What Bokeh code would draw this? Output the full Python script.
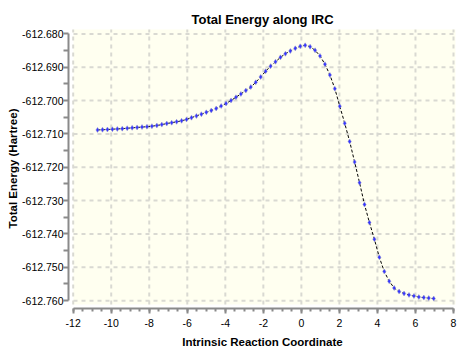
from bokeh.plotting import figure
from bokeh.models import Range1d, FixedTicker, PrintfTickFormatter, BoxAnnotation
from bokeh.embed import file_html
from bokeh.resources import INLINE

irc_x = [-10.72, -10.46, -10.20, -9.94, -9.68, -9.42, -9.16, -8.90, -8.64, -8.38,
         -8.12, -7.86, -7.60, -7.34, -7.08, -6.82, -6.56, -6.30, -6.04, -5.78,
         -5.52, -5.26, -5.00, -4.74, -4.48, -4.22, -3.96, -3.70, -3.44, -3.18,
         -2.92, -2.66, -2.40, -2.14, -1.88, -1.62, -1.36, -1.10, -0.84, -0.58,
         -0.32, -0.06, 0.20, 0.46, 0.72, 0.98, 1.24, 1.50, 1.76, 2.02,
         2.28, 2.54, 2.80, 3.06, 3.32, 3.58, 3.84, 4.10, 4.36, 4.62,
         4.88, 5.14, 5.40, 5.66, 5.92, 6.18, 6.44, 6.70, 6.96]

energy = [-612.70880, -612.70874, -612.70868, -612.70859, -612.70850, -612.70842,
          -612.70830, -612.70818, -612.70806, -612.70795, -612.70783, -612.70768,
          -612.70748, -612.70721, -612.70689, -612.70663, -612.70636, -612.70607,
          -612.70566, -612.70513, -612.70460, -612.70408, -612.70352, -612.70299,
          -612.70238, -612.70164, -612.70088, -612.69997, -612.69900, -612.69801,
          -612.69698, -612.69595, -612.69452, -612.69290, -612.69120, -612.68968,
          -612.68836, -612.68704, -612.68595, -612.68513, -612.68434, -612.68372,
          -612.68343, -612.68384, -612.68493, -612.68660, -612.68909, -612.69232,
          -612.69642, -612.70170, -612.70683, -612.71226, -612.71842, -612.72463,
          -612.73117, -612.73660, -612.74158, -612.74701, -612.75126, -612.75419,
          -612.75619, -612.75727, -612.75786, -612.75827, -612.75862, -612.75892,
          -612.75909, -612.75924, -612.75938]

x_ticks = [-12, -10, -8, -6, -4, -2, 0, 2, 4, 6, 8]
x_minor = [-12 + 0.5 * i for i in range(41)]
y_ticks = [-612.760, -612.750, -612.740, -612.730, -612.720,
           -612.710, -612.700, -612.690, -612.680]
y_minor = [-612.755, -612.745, -612.735, -612.725, -612.715,
           -612.705, -612.695, -612.685]

title_text = "Total Energy along IRC"
x_label = "Intrinsic Reaction Coordinate"
y_label = "Total Energy (Hartree)"

FONT = "Liberation Sans"
AXIS_COLOR = "#8a8a8a"
CREAM = "#fffff0"
GRID_COLOR = "#d9d9d2"

p = figure(width=459, height=350, output_backend="svg", toolbar_location=None,
           x_range=Range1d(-12.247, 8.158),
           y_range=Range1d(-612.762355, -612.678385),
           min_border_left=68, min_border_right=3,
           min_border_top=28, min_border_bottom=36)

p.background_fill_color = "white"
p.border_fill_color = "white"
p.outline_line_color = None
p.xgrid.visible = False
p.ygrid.visible = False

# cream plotting area
cream_left, cream_right = -11.984, 8.105
cream_top, cream_bottom = -612.678679, -612.761180
p.add_layout(BoxAnnotation(left=cream_left, right=cream_right,
                           top=cream_top, bottom=cream_bottom,
                           fill_color=CREAM, fill_alpha=1.0,
                           line_color=None, level="underlay"))

# dashed grid
p.segment(x0=x_ticks, x1=x_ticks, y0=[cream_bottom] * len(x_ticks),
          y1=[cream_top] * len(x_ticks), line_color=GRID_COLOR,
          line_width=2, line_dash="4 4")
p.segment(x0=[cream_left] * len(y_ticks), x1=[cream_right] * len(y_ticks),
          y0=y_ticks, y1=y_ticks, line_color=GRID_COLOR,
          line_width=2, line_dash="4 4")

# data
p.line(irc_x, energy, line_color="black", line_width=1, line_dash="3 2")
p.scatter(irc_x, energy, marker="diamond", size=5, fill_color="#3535ff",
          line_color="#9a9ac8", line_width=0.5)

# axes
p.xaxis.ticker = FixedTicker(ticks=x_ticks, minor_ticks=x_minor)
p.yaxis.ticker = FixedTicker(ticks=y_ticks, minor_ticks=y_minor)
p.xaxis.formatter = PrintfTickFormatter(format="%d")
p.yaxis.formatter = PrintfTickFormatter(format="%.3f")
p.xaxis.bounds = (-12, 8)
p.yaxis.bounds = (-612.760, -612.680)

for ax in (p.xaxis[0], p.yaxis[0]):
    ax.axis_line_color = AXIS_COLOR
    ax.axis_line_width = 2
    ax.major_tick_line_color = AXIS_COLOR
    ax.minor_tick_line_color = AXIS_COLOR
    ax.major_tick_line_width = 2
    ax.minor_tick_line_width = 2
    ax.major_tick_in = 0
    ax.minor_tick_in = 0
    ax.major_label_text_font = FONT
    ax.major_label_text_font_size = "10.5px"
    ax.major_label_text_color = "black"
    ax.axis_label_text_font = FONT
    ax.axis_label_text_font_size = "11.5px"
    ax.axis_label_text_font_style = "bold"
    ax.axis_label_text_color = "black"

p.xaxis.major_tick_out = 5
p.xaxis.minor_tick_out = 3
p.xaxis.major_label_standoff = 5
p.xaxis.axis_label_standoff = 6
p.xaxis.axis_label = x_label

p.yaxis.major_tick_out = 5
p.yaxis.minor_tick_out = 5
p.yaxis.major_label_standoff = 0
p.yaxis.axis_label_standoff = 0
p.yaxis.axis_label = y_label

p.title.text = title_text
p.title.align = "center"
p.title.text_font = FONT
p.title.text_font_size = "13px"
p.title.text_font_style = "bold"
p.title.text_color = "black"
p.title.standoff = 3

open("out.html", "w").write(file_html(p, INLINE))
